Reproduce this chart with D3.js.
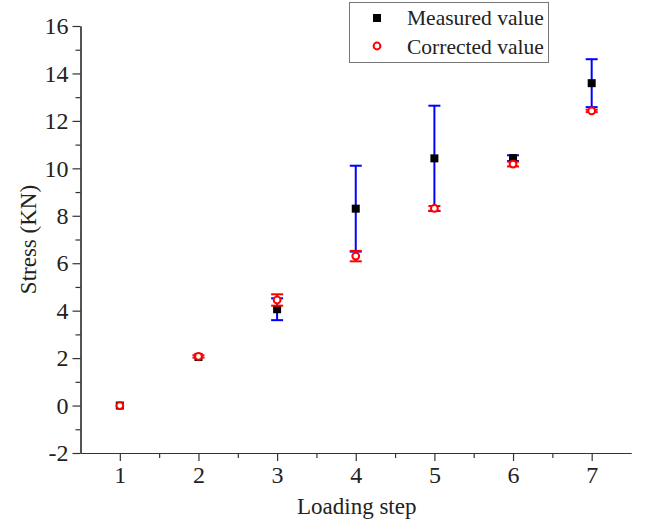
<!DOCTYPE html>
<html>
<head>
<meta charset="utf-8">
<script src="https://cdn.jsdelivr.net/npm/d3@7"></script>
<style>
  body { margin: 0; background: #fff; }
  svg text { font-family: "Liberation Serif", "DejaVu Serif", serif; fill: #222; }
  .axis path, .axis line { stroke: #333; stroke-width: 1.2; }
</style>
</head>
<body>
<div class="container"></div>
<script>
const steps = [1, 2, 3, 4, 5, 6, 7]
const measured = [0, 2.05, 4.06, 8.3, 10.42, 10.43, 13.59]
const measuredErr = [0, 0, 0.46, 1.81, 2.22, 0.12, 1.01]
const corrected = [0, 2.07, 4.45, 6.3, 8.31, 10.18, 12.42]
const correctedErr = [0, 0.05, 0.24, 0.22, 0.1, 0.1, 0.05]
const yTicks = [-2, 0, 2, 4, 6, 8, 10, 12, 14, 16]
const seriesNames = ['Measured value', 'Corrected value']

const width = 648
const height = 522
const plotLeft = 80.5
const plotRight = 631
const plotTop = 26
const plotBottom = 453

const svg = d3.select('.container').append('svg')
  .attr('width', width).attr('height', height)

const x = d3.scaleLinear().domain([0.5, 7.5]).range([plotLeft, plotRight])
const y = d3.scaleLinear().domain([-2, 16]).range([plotBottom, plotTop])

// minor ticks first, then majors
svg.append('g').attr('class', 'axis')
  .attr('transform', `translate(0, ${ plotBottom })`)
  .call(d3.axisBottom(x).tickValues(d3.range(1.5, 7.5, 1)).tickSize(5).tickSizeOuter(0).tickFormat(''))
svg.append('g').attr('class', 'axis')
  .attr('transform', `translate(${ plotLeft }, 0)`)
  .call(d3.axisLeft(y).tickValues(d3.range(-1, 16, 2)).tickSize(5).tickSizeOuter(0).tickFormat(''))

const xAxis = svg.append('g').attr('class', 'axis')
  .attr('transform', `translate(0, ${ plotBottom })`)
  .call(d3.axisBottom(x).tickValues(steps).tickSize(8).tickSizeOuter(0).tickPadding(5)
    .tickFormat(d => String(d)))
xAxis.selectAll('text').attr('font-size', 24).style('font-family', '"Liberation Serif", serif')

const yAxis = svg.append('g').attr('class', 'axis')
  .attr('transform', `translate(${ plotLeft }, 0)`)
  .call(d3.axisLeft(y).tickValues(yTicks).tickSize(8).tickSizeOuter(0).tickPadding(4)
    .tickFormat(d => String(d)))
yAxis.selectAll('text').attr('font-size', 24).style('font-family', '"Liberation Serif", serif')

svg.append('text')
  .attr('transform', `translate(36, ${ (plotTop + plotBottom) / 2 }) rotate(-90)`)
  .attr('text-anchor', 'middle')
  .attr('font-size', 23)
  .text('Stress (KN)')

svg.append('text')
  .attr('x', (plotLeft + plotRight) / 2 + 1)
  .attr('y', 514)
  .attr('text-anchor', 'middle')
  .attr('font-size', 23)
  .text('Loading step')

const data = steps.map((s, i) => ({
  step: s, m: measured[i], mErr: measuredErr[i], c: corrected[i], cErr: correctedErr[i]
}))

const drawErr = (cls, val, err, color) => {
  const g = svg.append('g').attr('class', cls)
  const rows = data.filter(d => d[err] > 0)
  g.selectAll('line.stem').data(rows).enter().append('line')
    .attr('x1', d => x(d.step)).attr('x2', d => x(d.step))
    .attr('y1', d => y(d[val] - d[err])).attr('y2', d => y(d[val] + d[err]))
    .attr('stroke', color).attr('stroke-width', 2)
  const caps = rows.flatMap(d => [d[val] - d[err], d[val] + d[err]].map(v => ({ step: d.step, v })))
  g.selectAll('line.cap').data(caps).enter().append('line')
    .attr('x1', d => x(d.step) - 6).attr('x2', d => x(d.step) + 6)
    .attr('y1', d => y(d.v)).attr('y2', d => y(d.v))
    .attr('stroke', color).attr('stroke-width', 2)
}

drawErr('err-measured', 'm', 'mErr', '#0000ff')

svg.append('g').selectAll('rect').data(data).enter().append('rect')
  .attr('x', d => x(d.step) - 4).attr('y', d => y(d.m) - 4)
  .attr('width', 8).attr('height', 8).attr('fill', '#000')

drawErr('err-corrected', 'c', 'cErr', '#ff0000')

svg.append('g').selectAll('circle').data(data).enter().append('circle')
  .attr('cx', d => x(d.step)).attr('cy', d => y(d.c)).attr('r', 3.4)
  .attr('fill', '#fff').attr('stroke', '#ff0000').attr('stroke-width', 2)

// legend
const legend = svg.append('g').attr('class', 'legend')
legend.append('rect')
  .attr('x', 349.5).attr('y', 2.5).attr('width', 199).attr('height', 60)
  .attr('fill', '#fff').attr('stroke', '#777').attr('stroke-width', 1)
legend.append('rect').attr('x', 373).attr('y', 14).attr('width', 8).attr('height', 8).attr('fill', '#000')
legend.append('circle').attr('cx', 377).attr('cy', 46).attr('r', 3.4)
  .attr('fill', '#fff').attr('stroke', '#ff0000').attr('stroke-width', 2)
legend.selectAll('text.lbl').data(seriesNames).enter().append('text')
  .attr('x', 407).attr('y', (d, i) => 25 + i * 29)
  .attr('font-size', 21.5)
  .text(d => d)
</script>
</body>
</html>
